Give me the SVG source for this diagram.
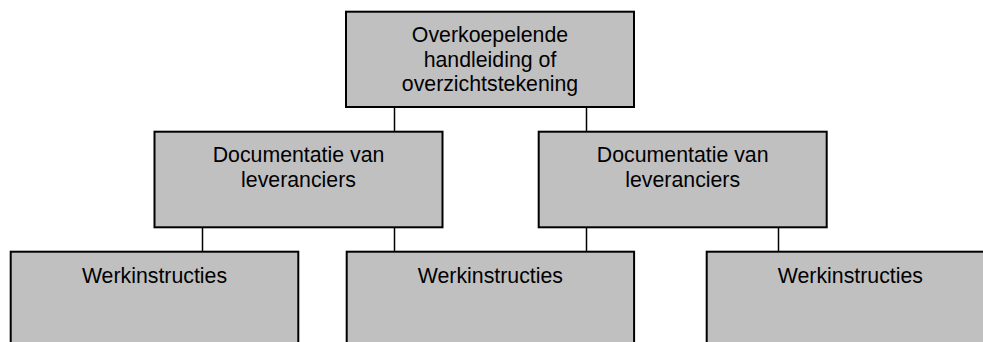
<svg xmlns="http://www.w3.org/2000/svg" width="983" height="342" viewBox="0 0 983 342">
<style>
.box{fill:#c0c0c0;stroke:#000;stroke-width:2}
.lbl{font-family:"Liberation Sans",Arial,sans-serif;font-size:21.3px;fill:#000;text-anchor:middle}
.con line{stroke:#000;stroke-width:1.5}
</style>
<rect width="983" height="342" fill="#fff"/>
<g class="con" id="connectors">
<line x1="394.5" y1="107" x2="394.5" y2="132"/>
<line x1="586.5" y1="107" x2="586.5" y2="132"/>
<line x1="202.5" y1="227" x2="202.5" y2="252"/>
<line x1="394.5" y1="227" x2="394.5" y2="252"/>
<line x1="586.5" y1="227" x2="586.5" y2="252"/>
<line x1="778.5" y1="227" x2="778.5" y2="252"/>
</g>
<g id="top">
<rect class="box" x="346" y="11.7" width="288" height="95.3"/>
<text class="lbl" x="490" y="42.3">Overkoepelende</text>
<text class="lbl" x="490" y="66.5">handleiding of</text>
<text class="lbl" x="490" y="90.7">overzichtstekening</text>
</g>
<g id="docL">
<rect class="box" x="154.5" y="131.7" width="288" height="95.6"/>
<text class="lbl" x="298.5" y="162.3">Documentatie van</text>
<text class="lbl" x="298.5" y="186.6">leveranciers</text>
</g>
<g id="docR">
<rect class="box" x="538.7" y="131.7" width="288" height="95.6"/>
<text class="lbl" x="682.7" y="162.3">Documentatie van</text>
<text class="lbl" x="682.7" y="186.6">leveranciers</text>
</g>
<g id="werk1">
<rect class="box" x="10.7" y="251.7" width="287.6" height="120"/>
<text class="lbl" x="154.5" y="283.3">Werkinstructies</text>
</g>
<g id="werk2">
<rect class="box" x="346.7" y="251.7" width="287.4" height="120"/>
<text class="lbl" x="490.4" y="283.3">Werkinstructies</text>
</g>
<g id="werk3">
<rect class="box" x="706.7" y="251.7" width="287.4" height="120"/>
<text class="lbl" x="850.4" y="283.3">Werkinstructies</text>
</g>
</svg>
